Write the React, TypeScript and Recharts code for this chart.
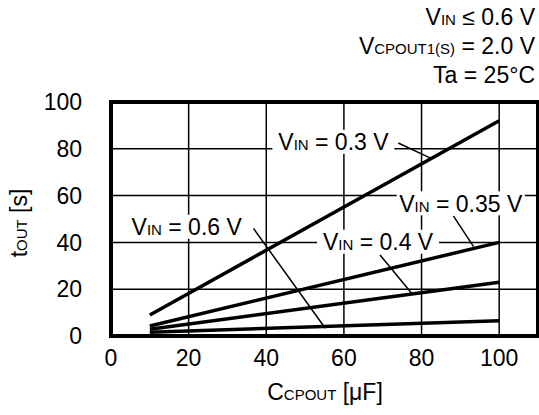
import {
  CartesianGrid,
  Line,
  LineChart,
  ReferenceArea,
  ReferenceDot,
  ReferenceLine,
  XAxis,
  YAxis
} from "recharts";

// Ccpout [uF] sampled at both ends of each (straight) curve
const CAPACITANCE = [10, 100];
// tout [s] for each Vin
const T_VIN_030 = [9, 92];
const T_VIN_035 = [4.3, 40];
const T_VIN_040 = [2.9, 23];
const T_VIN_060 = [1.6, 6.5];

const X_TICKS = [0, 20, 40, 60, 80, 100];
const Y_TICKS = [0, 20, 40, 60, 80, 100];

const SERIES = [
  { key: "v030", vin: "0.3" },
  { key: "v035", vin: "0.35" },
  { key: "v040", vin: "0.4" },
  { key: "v060", vin: "0.6" }
];

const data = CAPACITANCE.map((c, i) => ({
  c,
  v030: T_VIN_030[i],
  v035: T_VIN_035[i],
  v040: T_VIN_040[i],
  v060: T_VIN_060[i]
}));

const FONT = '"Liberation Sans", Arial, Helvetica, sans-serif';
const BIG = 23;
const SMALL = 15;

// label anchor + leader line, in data units
const CALLOUTS: Record<string, { at: [number, number]; w: number; leader: [number, number][] }> = {
  v030: { at: [57.3, 83], w: 122, leader: [[74, 82.5], [82.2, 76.1]] },
  v035: { at: [90.1, 56.7], w: 128, leader: [[88.2, 51.3], [93.4, 38.2]] },
  v040: { at: [68.8, 40.3], w: 122, leader: [[69.3, 34.6], [77.5, 18.2]] },
  v060: { at: [19.5, 46.7], w: 122, leader: [[36.7, 46], [55.2, 3.3]] }
};

function VinLabel({ cx, cy, vin, w }: { cx: number; cy: number; vin: string; w: number }) {
  return (
    <g>
      <rect x={cx - w / 2} y={cy - 12} width={w} height={24} fill="#fff" />
      <text x={cx} y={cy} dy="0.36em" textAnchor="middle" fontFamily={FONT} fontSize={BIG} fill="#000">
        <tspan>V</tspan>
        <tspan fontSize={SMALL}>IN</tspan>
        <tspan>{` = ${vin} V`}</tspan>
      </text>
    </g>
  );
}

export default function App() {
  return (
    <div style={{ position: "absolute", left: 0, top: 0, width: 539, height: 415, background: "#fff" }}>
      <LineChart
        width={539}
        height={415}
        data={data}
        margin={{ top: 102, right: 1, bottom: 0, left: 0 }}
      >
        <CartesianGrid stroke="#000" strokeWidth={1.5} />
        <XAxis
          dataKey="c"
          type="number"
          domain={[0, 110]}
          ticks={X_TICKS}
          height={79}
          axisLine={false}
          tickLine={false}
          tickSize={0}
          tickMargin={14}
          tick={{ fill: "#000", fontSize: BIG, fontFamily: FONT }}
        />
        <YAxis
          type="number"
          domain={[0, 100]}
          ticks={Y_TICKS}
          width={111}
          axisLine={false}
          tickLine={false}
          tickSize={0}
          tickMargin={29}
          tick={{ fill: "#000", fontSize: BIG, fontFamily: FONT }}
        />
        {SERIES.map((s) => (
          <Line
            key={s.key}
            type="linear"
            dataKey={s.key}
            stroke="#000"
            strokeWidth={3.5}
            dot={false}
            isAnimationActive={false}
          />
        ))}
        {SERIES.map((s) => (
          <ReferenceLine
            key={`lead-${s.key}`}
            segment={CALLOUTS[s.key].leader.map(([x, y]) => ({ x, y }))}
            stroke="#000"
            strokeWidth={1.5}
          />
        ))}
        {SERIES.map((s) => (
          <ReferenceDot
            key={`lbl-${s.key}`}
            x={CALLOUTS[s.key].at[0]}
            y={CALLOUTS[s.key].at[1]}
            r={1}
            shape={(p: any) => <VinLabel cx={p.cx} cy={p.cy} vin={s.vin} w={CALLOUTS[s.key].w} />}
          />
        ))}
        <ReferenceArea x1={0} x2={110} y1={0} y2={100} fill="none" stroke="#000" strokeWidth={4} />
      </LineChart>

      <svg
        width={539}
        height={415}
        style={{ position: "absolute", left: 0, top: 0, pointerEvents: "none" }}
        fontFamily={FONT}
        fill="#000"
      >
        <text x={535} y={25} textAnchor="end" fontSize={BIG}>
          <tspan>V</tspan>
          <tspan fontSize={SMALL}>IN</tspan>
          <tspan>{" \u2264 0.6 V"}</tspan>
        </text>
        <text x={535} y={54} textAnchor="end" fontSize={BIG}>
          <tspan>V</tspan>
          <tspan fontSize={SMALL}>CPOUT1(S)</tspan>
          <tspan>{" = 2.0 V"}</tspan>
        </text>
        <text x={535} y={83} textAnchor="end" fontSize={BIG}>
          Ta = 25°C
        </text>
        <text x={325} y={400} textAnchor="middle" fontSize={BIG}>
          <tspan>C</tspan>
          <tspan fontSize={SMALL}>CPOUT</tspan>
          <tspan>{" [\u03bcF]"}</tspan>
        </text>
        <text transform="translate(27,223) rotate(-90)" textAnchor="middle" fontSize={BIG}>
          <tspan>t</tspan>
          <tspan fontSize={SMALL}>OUT</tspan>
          <tspan>{" [s]"}</tspan>
        </text>
      </svg>
    </div>
  );
}
